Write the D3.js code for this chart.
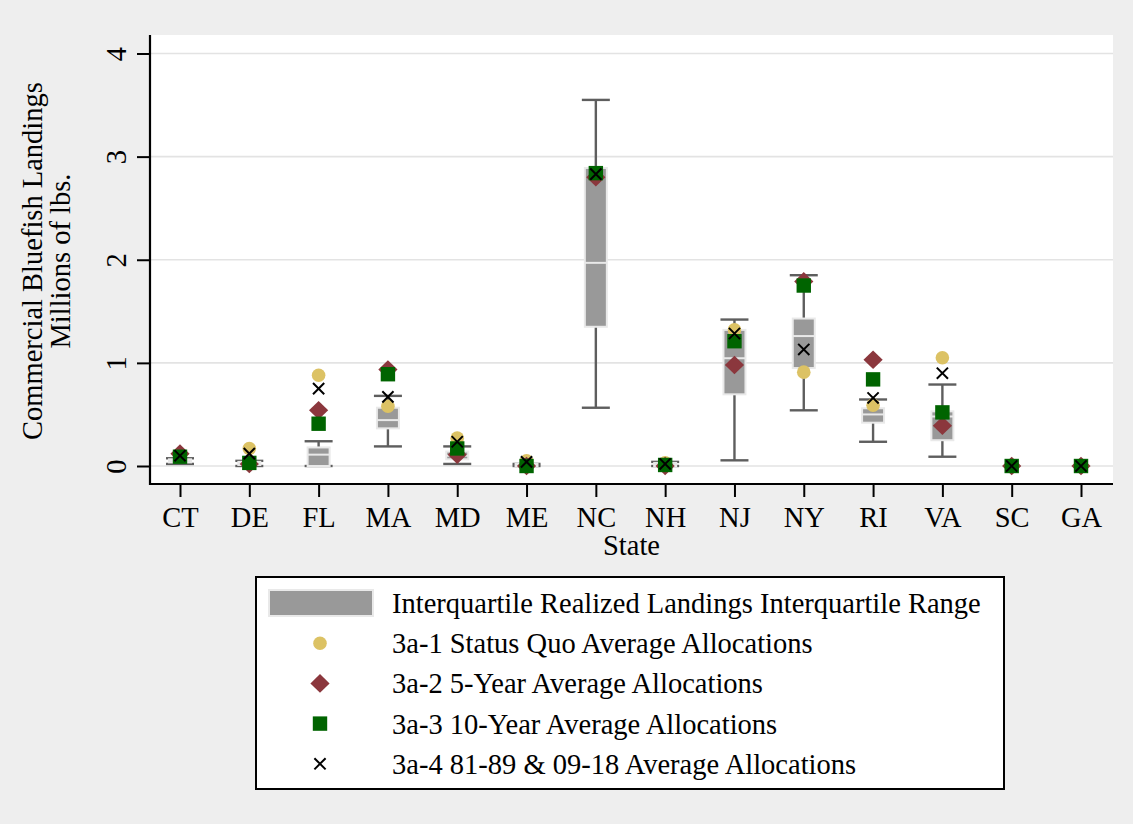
<!DOCTYPE html>
<html>
<head>
<meta charset="utf-8">
<script src="https://cdn.jsdelivr.net/npm/d3@7"></script>
<style>
  html, body { margin: 0; padding: 0; background: #eeeeee; }
  svg { display: block; }
  text { font-family: "Liberation Serif", "Times New Roman", serif; fill: #000; }
</style>
</head>
<body>
<svg id="chart" width="1133" height="824"></svg>
<script>
// ---- Data ----
const states = ["CT","DE","FL","MA","MD","ME","NC","NH","NJ","NY","RI","VA","SC","GA"];
// Realized landings box plot (millions of lbs); null = no realized landings box
const whiskerLow  = [0.02, 0.00, 0.00, 0.19, 0.02, 0.00, 0.565, 0.00, 0.055, 0.54, 0.235, 0.09, null, null];
const quartile1   = [0.035,0.01, 0.00, 0.365,0.065,0.00, 1.35,  0.00, 0.695, 0.95, 0.42,  0.25, null, null];
const medianVal   = [0.05, 0.03, 0.11, 0.445,0.10, 0.01, 1.97,  0.01, 1.045, 1.26, 0.50,  0.48, null, null];
const quartile3   = [0.065,0.04, 0.18, 0.565,0.14, 0.02, 2.89,  0.03, 1.32,  1.43, 0.56,  0.53, null, null];
const whiskerHigh = [0.075,0.05, 0.24, 0.68, 0.19, 0.02, 3.55,  0.04, 1.42,  1.85, 0.645, 0.79, null, null];
// Allocation alternatives
const statusQuo   = [0.10, 0.17, 0.88, 0.58, 0.27, 0.05, 2.84, 0.03, 1.32, 0.91, 0.59, 1.05, 0, 0];
const fiveYear    = [0.12, 0.02, 0.54, 0.935,0.11, 0.00, 2.80, 0.00, 0.98, 1.79, 1.03, 0.39, 0, 0];
const tenYear     = [0.09, 0.03, 0.41, 0.89, 0.17, 0.00, 2.84, 0.01, 1.21, 1.75, 0.84, 0.52, 0, 0];
const mixedYears  = [0.10, 0.12, 0.75, 0.67, 0.235,0.04, 2.83, 0.02, 1.285,1.13, 0.66, 0.90, 0, 0];
const yTicks = [0, 1, 2, 3, 4];
const legendLabels = [
  "Interquartile Realized Landings Interquartile Range",
  "3a-1 Status Quo Average Allocations",
  "3a-2 5-Year Average Allocations",
  "3a-3 10-Year Average Allocations",
  "3a-4 81-89 & 09-18 Average Allocations"
];
const yTitle = ["Commercial Bluefish Landings", "Millions of lbs."];
const xTitle = "State";

// ---- Layout ----
const plot = { left: 150, right: 1113, top: 35, bottom: 484 };
const FONT = 28.5;
const colors = { box: "#999999", boxEdge: "#e9e9e9", whisker: "#5e5e5e",
  circle: "#dcc264", diamond: "#8b373d", square: "#006400", cross: "#000000" };

const svg = d3.select("#chart");
svg.append("rect").attr("width", 1133).attr("height", 824).attr("fill", "#eeeeee");
svg.append("rect").attr("x", plot.left).attr("y", plot.top)
  .attr("width", plot.right - plot.left).attr("height", plot.bottom - plot.top)
  .attr("fill", "#ffffff");

const x = d3.scalePoint().domain(states).range([180, 1081]);
const y = d3.scaleLinear().domain([0, 4]).range([466, 53.5]);

// gridlines
svg.append("g").selectAll("line").data(yTicks).join("line")
  .attr("x1", plot.left).attr("x2", plot.right)
  .attr("y1", d => y(d)).attr("y2", d => y(d))
  .attr("stroke", "#e3e3e3").attr("stroke-width", 1.6);

// y axis
const yAxis = d3.axisLeft(y).tickValues(yTicks).tickSize(13).tickFormat(d3.format("d"));
const gy = svg.append("g").attr("transform", `translate(${plot.left},0)`).call(yAxis);
gy.select(".domain").remove();
gy.selectAll(".tick line").attr("stroke", "#000").attr("stroke-width", 2);
gy.selectAll(".tick text").attr("font-size", FONT).attr("x", 0).attr("dy", 0)
  .attr("transform", "translate(-24,0) rotate(-90)")
  .attr("text-anchor", "middle").attr("font-family", "Liberation Serif");
svg.append("line").attr("x1", plot.left).attr("x2", plot.left)
  .attr("y1", plot.top).attr("y2", plot.bottom + 1).attr("stroke", "#000").attr("stroke-width", 2.2);

// x axis
const xAxis = d3.axisBottom(x).tickSize(13).tickSizeOuter(0);
const gx = svg.append("g").attr("transform", `translate(0,${plot.bottom})`).call(xAxis);
gx.select(".domain").remove();
gx.selectAll(".tick line").attr("stroke", "#000").attr("stroke-width", 2);
gx.selectAll(".tick text").attr("font-size", FONT).attr("y", 43).attr("dy", 0)
  .attr("font-family", "Liberation Serif");
svg.append("line").attr("x1", plot.left - 1).attr("x2", plot.right)
  .attr("y1", plot.bottom).attr("y2", plot.bottom).attr("stroke", "#000").attr("stroke-width", 2.2);

// axis titles
svg.append("text").attr("x", (plot.left + plot.right) / 2).attr("y", 555)
  .attr("text-anchor", "middle").attr("font-size", FONT).text(xTitle);
yTitle.forEach((t, i) => {
  svg.append("text").attr("transform", `translate(${42 + i * 27.5},261) rotate(-90)`)
    .attr("text-anchor", "middle").attr("font-size", FONT).text(t);
});

// ---- box plots ----
const boxes = states.map((s, i) => ({ s, lo: whiskerLow[i], q1: quartile1[i], med: medianVal[i], q3: quartile3[i], hi: whiskerHigh[i] }))
  .filter(b => b.lo !== null);
const gb = svg.append("g");
const capW = 28, boxW = 22;
boxes.forEach(b => {
  const cx = x(b.s);
  gb.append("line").attr("x1", cx).attr("x2", cx).attr("y1", y(b.lo)).attr("y2", y(b.hi))
    .attr("stroke", colors.whisker).attr("stroke-width", 2.4);
  [b.lo, b.hi].forEach(v => gb.append("line").attr("x1", cx - capW / 2).attr("x2", cx + capW / 2)
    .attr("y1", y(v)).attr("y2", y(v)).attr("stroke", colors.whisker).attr("stroke-width", 2.4));
  gb.append("rect").attr("x", cx - boxW / 2).attr("y", y(b.q3))
    .attr("width", boxW).attr("height", Math.max(0.5, y(b.q1) - y(b.q3)))
    .attr("fill", colors.box).attr("stroke", colors.boxEdge).attr("stroke-width", 2);
  gb.append("line").attr("x1", cx - boxW / 2).attr("x2", cx + boxW / 2)
    .attr("y1", y(b.med)).attr("y2", y(b.med)).attr("stroke", colors.boxEdge).attr("stroke-width", 2);
});

// ---- markers ----
function drawMarker(g, type, cx, cy) {
  if (type === "circle") {
    g.append("circle").attr("cx", cx).attr("cy", cy).attr("r", 6.8).attr("fill", colors.circle);
  } else if (type === "diamond") {
    g.append("path").attr("d", `M${cx},${cy - 9.3}L${cx + 9.6},${cy}L${cx},${cy + 9.3}L${cx - 9.6},${cy}Z`)
      .attr("fill", colors.diamond);
  } else if (type === "square") {
    g.append("rect").attr("x", cx - 7.2).attr("y", cy - 7.2).attr("width", 14.4).attr("height", 14.4)
      .attr("fill", colors.square);
  } else if (type === "cross") {
    const h = 5.6;
    g.append("path").attr("d", `M${cx - h},${cy - h}L${cx + h},${cy + h}M${cx - h},${cy + h}L${cx + h},${cy - h}`)
      .attr("stroke", colors.cross).attr("stroke-width", 2).attr("fill", "none");
  }
}
const seriesList = [
  { type: "circle", values: statusQuo },
  { type: "diamond", values: fiveYear },
  { type: "square", values: tenYear },
  { type: "cross", values: mixedYears }
];
const gm = svg.append("g");
seriesList.forEach(sr => {
  sr.values.forEach((v, i) => drawMarker(gm, sr.type, x(states[i]), y(v)));
});

// ---- legend ----
const lg = svg.append("g");
lg.append("rect").attr("x", 256).attr("y", 577).attr("width", 748).attr("height", 212)
  .attr("fill", "#ffffff").attr("stroke", "#000").attr("stroke-width", 2);
const rowY = legendLabels.map((_, i) => 603 + i * 40.2);
lg.append("rect").attr("x", 269).attr("y", rowY[0] - 13).attr("width", 104).attr("height", 26)
  .attr("fill", colors.box).attr("stroke", colors.boxEdge).attr("stroke-width", 2);
["circle", "diamond", "square", "cross"].forEach((t, i) => drawMarker(lg, t, 320, rowY[i + 1]));
legendLabels.forEach((t, i) => {
  lg.append("text").attr("x", 392).attr("y", rowY[i] + 10).attr("font-size", FONT).text(t);
});
</script>
</body>
</html>
